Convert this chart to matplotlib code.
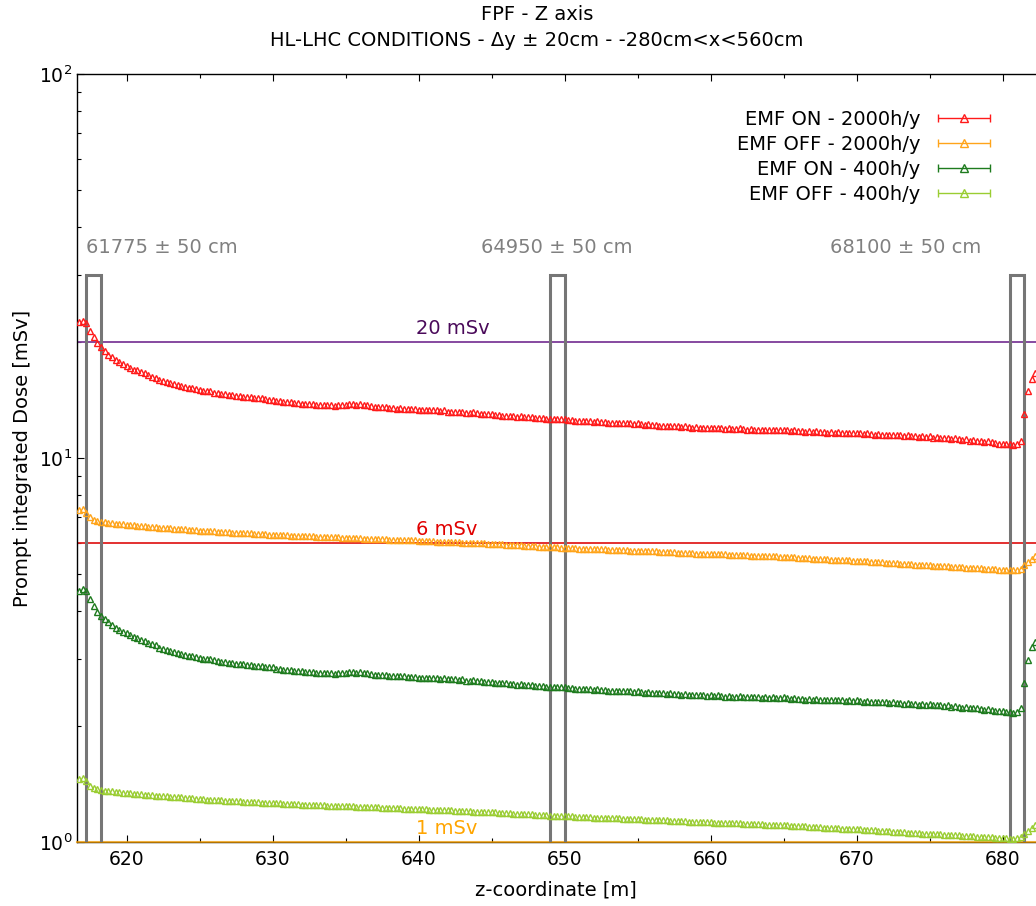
import numpy as np
import matplotlib
matplotlib.use("Agg")
import matplotlib.pyplot as plt
from matplotlib.ticker import MultipleLocator
from matplotlib.legend_handler import HandlerErrorbar

# z grid of the scoring bins [m]
z_start = 616.75
z_step = 0.25

# prompt integrated dose [mSv]
dose_on_2000 = [
    22.6, 22.8, 22.5, 21.4, 20.6, 19.9, 19.4, 19.0, 18.6, 18.3, 18.0, 17.8, 17.6, 17.4,
    17.2, 17.0, 16.9, 16.7, 16.6, 16.4, 16.3, 16.2, 16.0, 15.9, 15.8, 15.7, 15.6, 15.5, 15.4, 15.3, 15.2, 15.2, 15.1, 15.0,
    14.95, 14.9, 14.9, 14.8, 14.75, 14.7, 14.7, 14.6, 14.6, 14.5, 14.5, 14.45, 14.4, 14.4, 14.35, 14.3, 14.3, 14.25, 14.2, 14.2,
    14.1, 14.1, 14.0, 14.0, 13.95, 13.9, 13.9, 13.85, 13.8, 13.8, 13.8, 13.75, 13.75, 13.7, 13.7, 13.7, 13.65, 13.7, 13.7, 13.75,
    13.8, 13.8, 13.75, 13.8, 13.7, 13.7, 13.65, 13.6, 13.6, 13.55, 13.55, 13.5, 13.5, 13.45, 13.5, 13.45, 13.4, 13.4, 13.4, 13.35,
    13.35, 13.3, 13.35, 13.3, 13.3, 13.25, 13.3, 13.2, 13.2, 13.2, 13.15, 13.2, 13.1, 13.1, 13.15, 13.1, 13.05, 13.0, 13.0, 13.0,
    12.95, 12.95, 12.9, 12.9, 12.85, 12.85, 12.8, 12.85, 12.8, 12.75, 12.75, 12.7, 12.7, 12.7, 12.65, 12.65, 12.6, 12.65, 12.6, 12.6,
    12.55, 12.55, 12.5, 12.5, 12.5, 12.45, 12.45, 12.4, 12.45, 12.4, 12.4, 12.35, 12.35, 12.3, 12.35, 12.3, 12.3, 12.3, 12.25, 12.3,
    12.25, 12.2, 12.25, 12.2, 12.2, 12.15, 12.15, 12.1, 12.15, 12.1, 12.1, 12.05, 12.1, 12.05, 12.0, 12.05, 12.0, 12.0, 11.95, 12.0,
    11.95, 12.0, 11.95, 11.9, 11.95, 11.9, 11.9, 11.95, 11.9, 11.85, 11.9, 11.85, 11.85, 11.8, 11.85, 11.8, 11.85, 11.8, 11.8, 11.85,
    11.8, 11.75, 11.8, 11.75, 11.75, 11.7, 11.75, 11.7, 11.75, 11.7, 11.7, 11.65, 11.7, 11.65, 11.7, 11.65, 11.6, 11.65, 11.6, 11.65,
    11.6, 11.55, 11.6, 11.55, 11.5, 11.55, 11.5, 11.5, 11.45, 11.5, 11.45, 11.45, 11.4, 11.45, 11.4, 11.4, 11.35, 11.4, 11.35, 11.4,
    11.3, 11.35, 11.3, 11.25, 11.3, 11.2, 11.25, 11.2, 11.15, 11.2, 11.1, 11.15, 11.1, 11.05, 11.0, 11.05, 11.0, 10.95, 10.9, 10.9,
    10.85, 10.85, 10.8, 10.85, 11.1, 13.0, 14.9, 16.1, 16.6,
]
dose_off_2000 = [
    7.3, 7.35, 7.2, 7.0, 6.9, 6.85, 6.82, 6.8, 6.78, 6.77, 6.75, 6.74, 6.72, 6.7,
    6.69, 6.68, 6.66, 6.65, 6.64, 6.63, 6.62, 6.6, 6.59, 6.58, 6.57, 6.56, 6.55, 6.54, 6.53, 6.52, 6.51, 6.5, 6.49, 6.47,
    6.46, 6.45, 6.45, 6.44, 6.43, 6.42, 6.41, 6.4, 6.39, 6.39, 6.38, 6.37, 6.36, 6.36, 6.35, 6.34, 6.33, 6.33, 6.32, 6.31,
    6.3, 6.3, 6.29, 6.29, 6.28, 6.27, 6.27, 6.26, 6.26, 6.25, 6.25, 6.24, 6.23, 6.23, 6.22, 6.22, 6.21, 6.21, 6.2, 6.2,
    6.19, 6.19, 6.18, 6.18, 6.17, 6.16, 6.16, 6.15, 6.15, 6.14, 6.14, 6.13, 6.13, 6.12, 6.12, 6.11, 6.11, 6.1, 6.1, 6.09,
    6.08, 6.08, 6.07, 6.07, 6.06, 6.06, 6.05, 6.04, 6.04, 6.03, 6.03, 6.02, 6.02, 6.01, 6.0, 6.0, 5.99, 5.99, 5.98, 5.98,
    5.97, 5.96, 5.96, 5.95, 5.94, 5.93, 5.93, 5.92, 5.91, 5.9, 5.9, 5.89, 5.88, 5.88, 5.87, 5.86, 5.86, 5.85, 5.84, 5.84,
    5.83, 5.83, 5.82, 5.81, 5.81, 5.8, 5.8, 5.79, 5.79, 5.78, 5.78, 5.77, 5.77, 5.76, 5.76, 5.75, 5.75, 5.74, 5.74, 5.74,
    5.73, 5.72, 5.72, 5.71, 5.71, 5.7, 5.69, 5.69, 5.68, 5.68, 5.67, 5.66, 5.66, 5.65, 5.65, 5.64, 5.64, 5.63, 5.63, 5.63,
    5.62, 5.62, 5.61, 5.61, 5.6, 5.6, 5.59, 5.59, 5.58, 5.58, 5.57, 5.57, 5.56, 5.56, 5.55, 5.55, 5.54, 5.54, 5.53, 5.53,
    5.52, 5.51, 5.51, 5.5, 5.49, 5.49, 5.48, 5.47, 5.47, 5.46, 5.45, 5.45, 5.44, 5.43, 5.43, 5.42, 5.42, 5.41, 5.4, 5.4,
    5.39, 5.38, 5.38, 5.37, 5.36, 5.35, 5.35, 5.34, 5.33, 5.32, 5.32, 5.31, 5.3, 5.29, 5.29, 5.28, 5.27, 5.26, 5.26, 5.25,
    5.24, 5.24, 5.23, 5.22, 5.22, 5.21, 5.2, 5.2, 5.19, 5.18, 5.18, 5.17, 5.16, 5.16, 5.15, 5.14, 5.14, 5.13, 5.12, 5.12,
    5.11, 5.1, 5.1, 5.11, 5.15, 5.25, 5.35, 5.45, 5.55,
]
dose_on_400 = [
    4.5, 4.56, 4.5, 4.3, 4.12, 3.98, 3.88, 3.8, 3.73, 3.67, 3.61, 3.57, 3.53, 3.5,
    3.46, 3.42, 3.39, 3.35, 3.33, 3.29, 3.27, 3.25, 3.21, 3.19, 3.17, 3.15, 3.13, 3.11, 3.09, 3.07, 3.05, 3.05, 3.03, 3.01,
    3.0, 2.99, 2.99, 2.97, 2.96, 2.95, 2.95, 2.93, 2.93, 2.91, 2.91, 2.9, 2.89, 2.89, 2.88, 2.87, 2.87, 2.86, 2.85, 2.85,
    2.83, 2.83, 2.81, 2.81, 2.8, 2.79, 2.79, 2.78, 2.77, 2.77, 2.77, 2.76, 2.76, 2.75, 2.75, 2.75, 2.74, 2.75, 2.75, 2.76,
    2.77, 2.77, 2.76, 2.77, 2.75, 2.75, 2.74, 2.73, 2.73, 2.72, 2.72, 2.71, 2.71, 2.7, 2.71, 2.7, 2.69, 2.69, 2.69, 2.68,
    2.68, 2.67, 2.68, 2.67, 2.67, 2.66, 2.67, 2.65, 2.65, 2.65, 2.64, 2.65, 2.63, 2.63, 2.64, 2.63, 2.62, 2.61, 2.61, 2.61,
    2.6, 2.6, 2.59, 2.59, 2.58, 2.58, 2.57, 2.58, 2.57, 2.56, 2.56, 2.55, 2.55, 2.55, 2.54, 2.54, 2.53, 2.54, 2.53, 2.53,
    2.52, 2.52, 2.51, 2.51, 2.51, 2.5, 2.5, 2.49, 2.5, 2.49, 2.49, 2.48, 2.48, 2.47, 2.48, 2.47, 2.47, 2.47, 2.46, 2.47,
    2.46, 2.45, 2.46, 2.45, 2.45, 2.44, 2.44, 2.43, 2.44, 2.43, 2.43, 2.42, 2.43, 2.42, 2.41, 2.42, 2.41, 2.41, 2.4, 2.41,
    2.4, 2.41, 2.4, 2.39, 2.4, 2.39, 2.39, 2.4, 2.39, 2.38, 2.39, 2.38, 2.38, 2.37, 2.38, 2.37, 2.38, 2.37, 2.37, 2.38,
    2.37, 2.36, 2.37, 2.36, 2.36, 2.35, 2.36, 2.35, 2.36, 2.35, 2.35, 2.34, 2.35, 2.34, 2.35, 2.34, 2.33, 2.34, 2.33, 2.34,
    2.33, 2.32, 2.33, 2.32, 2.31, 2.32, 2.31, 2.31, 2.3, 2.31, 2.3, 2.3, 2.29, 2.3, 2.29, 2.29, 2.28, 2.29, 2.28, 2.29,
    2.27, 2.28, 2.27, 2.26, 2.27, 2.25, 2.26, 2.25, 2.24, 2.25, 2.23, 2.24, 2.23, 2.22, 2.21, 2.22, 2.21, 2.2, 2.19, 2.19,
    2.18, 2.18, 2.17, 2.18, 2.23, 2.6, 2.98, 3.22, 3.32,
]
dose_off_400 = [
    1.46, 1.47, 1.44, 1.4, 1.38, 1.37, 1.364, 1.36, 1.356, 1.354, 1.35, 1.348, 1.344, 1.34,
    1.338, 1.336, 1.332, 1.33, 1.328, 1.326, 1.324, 1.32, 1.318, 1.316, 1.314, 1.312, 1.31, 1.308, 1.306, 1.304, 1.302, 1.3, 1.298, 1.294,
    1.292, 1.29, 1.29, 1.288, 1.286, 1.284, 1.282, 1.28, 1.278, 1.278, 1.276, 1.274, 1.272, 1.272, 1.27, 1.268, 1.266, 1.266, 1.264, 1.262,
    1.26, 1.26, 1.258, 1.258, 1.256, 1.254, 1.254, 1.252, 1.252, 1.25, 1.25, 1.248, 1.246, 1.246, 1.244, 1.244, 1.242, 1.242, 1.24, 1.24,
    1.238, 1.238, 1.236, 1.236, 1.234, 1.232, 1.232, 1.23, 1.23, 1.228, 1.228, 1.226, 1.226, 1.224, 1.224, 1.222, 1.222, 1.22, 1.22, 1.218,
    1.216, 1.216, 1.214, 1.214, 1.212, 1.212, 1.21, 1.208, 1.208, 1.206, 1.206, 1.204, 1.204, 1.202, 1.2, 1.2, 1.198, 1.198, 1.196, 1.196,
    1.194, 1.192, 1.192, 1.19, 1.188, 1.186, 1.186, 1.184, 1.182, 1.18, 1.18, 1.178, 1.176, 1.176, 1.174, 1.172, 1.172, 1.17, 1.168, 1.168,
    1.166, 1.166, 1.164, 1.162, 1.162, 1.16, 1.16, 1.158, 1.158, 1.156, 1.156, 1.154, 1.154, 1.152, 1.152, 1.15, 1.15, 1.148, 1.148, 1.148,
    1.146, 1.144, 1.144, 1.142, 1.142, 1.14, 1.138, 1.138, 1.136, 1.136, 1.134, 1.132, 1.132, 1.13, 1.13, 1.128, 1.128, 1.126, 1.126, 1.126,
    1.124, 1.124, 1.122, 1.122, 1.12, 1.12, 1.118, 1.118, 1.116, 1.116, 1.114, 1.114, 1.112, 1.112, 1.11, 1.11, 1.108, 1.108, 1.106, 1.106,
    1.104, 1.102, 1.102, 1.1, 1.098, 1.098, 1.096, 1.094, 1.094, 1.092, 1.09, 1.09, 1.088, 1.086, 1.086, 1.084, 1.084, 1.082, 1.08, 1.08,
    1.078, 1.076, 1.076, 1.074, 1.072, 1.07, 1.07, 1.068, 1.066, 1.064, 1.064, 1.062, 1.06, 1.058, 1.058, 1.056, 1.054, 1.052, 1.052, 1.05,
    1.048, 1.048, 1.046, 1.044, 1.044, 1.042, 1.04, 1.04, 1.038, 1.036, 1.036, 1.034, 1.032, 1.032, 1.03, 1.028, 1.028, 1.026, 1.024, 1.024,
    1.022, 1.02, 1.02, 1.022, 1.03, 1.05, 1.07, 1.09, 1.11,
]

series_labels = ["EMF ON - 2000h/y", "EMF OFF - 2000h/y", "EMF ON - 400h/y", "EMF OFF - 400h/y"]
series_colors = ["#ff1a1a", "#ffa41a", "#1e7b1e", "#9acd32"]

# detector positions (centre, half width) in cm
box_centres_cm = [61775, 64950, 68100]
box_half_cm = 50
box_top = 30

limits = [20, 6, 1]
limit_labels = ["20 mSv", "6 mSv", "1 mSv"]
limit_colors = ["#7d3c98", "#e02020", "orange"]
limit_text_colors = ["#4a0a5a", "#e00000", "#ffa500"]

W, H = 1036, 906
fig = plt.figure(figsize=(W / 100, H / 100), dpi=100)
ax_l, ax_r, ax_t, ax_b = 77, 1060, 74, 842
ax = fig.add_axes([ax_l / W, 1 - ax_b / H, (ax_r - ax_l) / W, (ax_b - ax_t) / H])

z = z_start + z_step * np.arange(len(dose_on_2000))
all_doses = [dose_on_2000, dose_off_2000, dose_on_400, dose_off_400]
for d, c in zip(all_doses, series_colors):
    ax.plot(z, d, ls="none", marker="^", ms=4.2, mfc="none", mec=c, mew=1.0, zorder=4)

# legend entries in the errorbar look of the original
handles = []
for lab, c in zip(series_labels, series_colors):
    h = ax.errorbar([np.nan], [np.nan], xerr=[1.0], fmt="^", ms=6, mfc="none", mec=c,
                    mew=1.0, color=c, ecolor=c, elinewidth=1.0, capsize=3, label=lab)
    handles.append(h)
ax.legend(handles=handles, loc="upper right", bbox_to_anchor=(992 / W, 1 - 110 / H),
          bbox_transform=fig.transFigure, frameon=False, markerfirst=False,
          alignment="right", fontsize=14, borderpad=0, borderaxespad=0,
          handlelength=2.9, handletextpad=0.8, labelspacing=0.3,
          handler_map={type(handles[0]): HandlerErrorbar(xerr_size=1.35)})

for lim, lab, c, tc in zip(limits, limit_labels, limit_colors, limit_text_colors):
    if lim == 1:
        ax.axhline(lim, color=c, lw=1.5, alpha=0.7, zorder=3, clip_on=False)
    else:
        ax.axhline(lim, color=c, lw=1.3, zorder=2)
    ax.text(639.8, lim * 1.025, lab, color=tc, fontsize=14, ha="left", va="bottom")

for cc in box_centres_cm:
    z0 = (cc - box_half_cm) / 100
    z1 = (cc + box_half_cm) / 100
    ax.plot([z0, z0, z1, z1], [0.5, box_top, box_top, 0.5], color="#767676", lw=2.2,
            zorder=3, solid_joinstyle="miter")

ax.text(617.25, 35.3, "61775 ± 50 cm", color="#808080", fontsize=14, ha="left", va="center")
ax.text(649.5, 35.3, "64950 ± 50 cm", color="#808080", fontsize=14, ha="center", va="center")
ax.text(678.55, 35.3, "68100 ± 50 cm", color="#808080", fontsize=14, ha="right", va="center")

ax.set_yscale("log")
ax.set_ylim(1, 100)
ax.xaxis.set_major_locator(MultipleLocator(10))
ax.xaxis.set_minor_locator(MultipleLocator(5))
x_per_px = 1 / 14.6
ax.set_xlim(620 - (126.5 - ax_l) * x_per_px, 620 + (ax_r - 126.5) * x_per_px)
ax.tick_params(which="both", direction="in", top=True, right=True, labelsize=13.5)
ax.tick_params(which="major", length=5, width=0.8)
ax.tick_params(which="minor", length=3, width=0.8)
ax.tick_params(axis="x", pad=6)
for s in ax.spines.values():
    s.set_linewidth(1.0)

ax.set_xlabel("z-coordinate [m]", fontsize=14)
ax.xaxis.set_label_coords((556 - ax_l) / (ax_r - ax_l), -(890 - ax_b) / (ax_b - ax_t), transform=ax.transAxes)
ax.xaxis.label.set_va("center")
ax.set_ylabel("Prompt integrated Dose [mSv]", fontsize=14)
ax.yaxis.set_label_coords(-(ax_l - 23) / (ax_r - ax_l), (ax_b - 458) / (ax_b - ax_t), transform=ax.transAxes)
ax.yaxis.label.set_va("center")

fig.text(537 / W, 1 - 14 / H, "FPF - Z axis", fontsize=14, ha="center", va="center")
fig.text(537 / W, 1 - 40 / H, "HL-LHC CONDITIONS - \u0394y \u00b1 20cm - -280cm<x<560cm",
         fontsize=14, ha="center", va="center")

fig.savefig("out.png", dpi=100)
